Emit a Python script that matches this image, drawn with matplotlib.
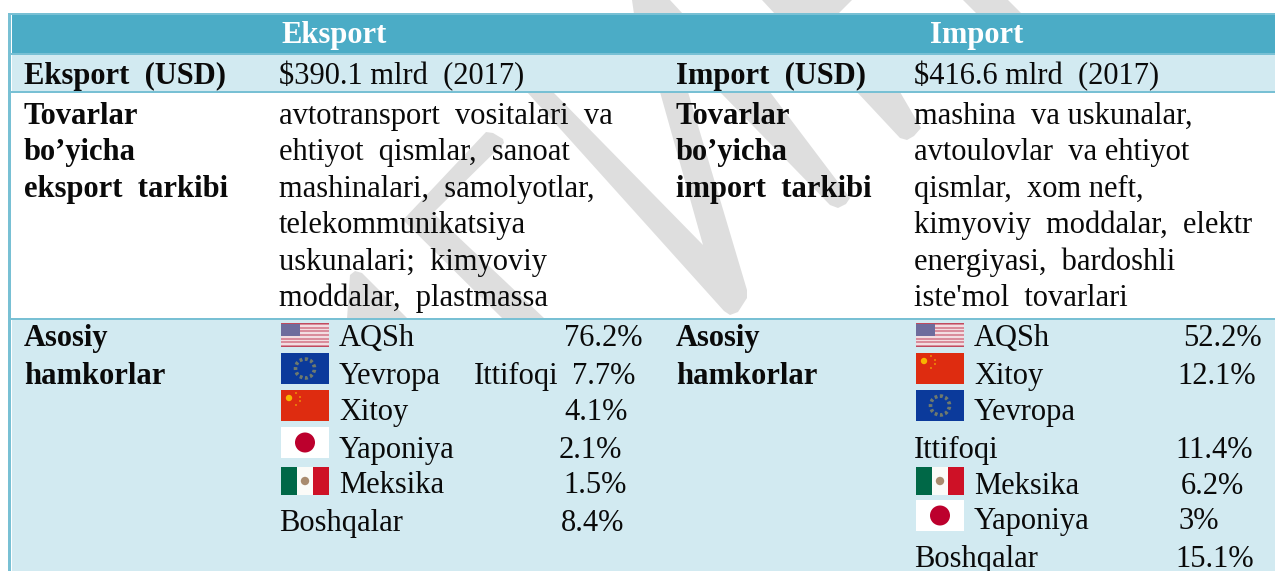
import matplotlib
matplotlib.use("Agg")
import matplotlib.pyplot as plt
from matplotlib.patches import Rectangle, Polygon, Circle

plt.rcParams['font.family'] = ['Liberation Serif', 'DejaVu Serif']

# table content
headers = ["Eksport", "Import"]
row_labels = ["Eksport  (USD)", "Import  (USD)"]
row_values = ["$390.1 mlrd  (2017)", "$416.6 mlrd  (2017)"]
export_goods_label = ["Tovarlar", "bo’yicha", "eksport  tarkibi"]
import_goods_label = ["Tovarlar", "bo’yicha", "import  tarkibi"]
export_goods = ["avtotransport  vositalari  va", "ehtiyot  qismlar,  sanoat",
                "mashinalari,  samolyotlar,", "telekommunikatsiya",
                "uskunalari;  kimyoviy", "moddalar,  plastmassa"]
import_goods = ["mashina  va uskunalar,", "avtoulovlar  va ehtiyot",
                "qismlar,  xom neft,", "kimyoviy  moddalar,  elektr",
                "energiyasi,  bardoshli", "iste'mol  tovarlari"]
partners_label = ["Asosiy", "hamkorlar"]
export_partners = ["AQSh", "Yevropa", "Xitoy", "Yaponiya", "Meksika"]
export_flags = ["us", "eu", "cn", "jp", "mx"]
export_shares = ["76.2%", "7.7%", "4.1%", "2.1%", "1.5%", "8.4%"]
import_partners = ["AQSh", "Xitoy", "Yevropa", "Meksika", "Yaponiya"]
import_flags = ["us", "cn", "eu", "mx", "jp"]
import_shares = ["52.2%", "12.1%", "11.4%", "6.2%", "3%", "15.1%"]

# layout, in pixels of the picture
W, H = 1275, 571
FS = 22
goods_base = [124, 160, 197, 233, 270, 306]
exp_base = [346, 384, 420, 458, 493, 531]
imp_base = [346, 384, 420, 494, 529]
exp_flag_y = [(323, 347), (353, 384), (390, 421), (427, 458), (467, 495)]
imp_flag_y = [(323, 347), (353, 384), (390, 421), (467, 495), (500, 531)]
exp_share_x = [564, 572, 564, 559, 563, 561]
imp_share_x = [1183, 1177, 1175, 1181, 1179, 1175]
imp_share_y = [346, 384, 458, 494, 529, 567]

BORDER = "#78C0D4"
HEAD = "#4BACC6"
BAND = "#D2EAF1"
MARK = "#DEDEDE"

fig = plt.figure(figsize=(W / 100, H / 100), dpi=100)
ax = fig.add_axes([0, 0, 1, 1])
ax.set_xlim(0, W)
ax.set_ylim(H, 0)
ax.axis("off")

# grey watermark, only shows through the white parts of the table
marks = [
    [(632, 0), (634, 14), (683, 14), (670, 0)],
    [(762, 0), (775, 14), (838, 14), (852, 0)],
    [(963, 0), (977, 14), (1022, 14), (1008, 0)],
    [(527, 92), (724, 311), (730, 315), (738, 312), (747, 298), (747, 290), (688, 92), (660, 92),
     (703, 245), (553, 92)],
    [(720, 92), (830, 205), (838, 208), (846, 204), (850, 198), (770, 92)],
    [(857, 92), (900, 138), (907, 140), (914, 136), (921, 128), (900, 92)],
    [(493, 133), (486, 132), (403, 220), (503, 319), (545, 319), (433, 213), (504, 143), (503, 139)],
    [(347, 319), (350, 275), (355, 271), (362, 273), (408, 319)],
]
for m in marks:
    ax.add_patch(Polygon(m, closed=True, fc=MARK, ec="none", zorder=1))

# table cells and rules
ax.add_patch(Rectangle((12, 15), W - 12, 38, fc=HEAD, ec="none", zorder=2))
ax.add_patch(Rectangle((12, 55), W - 12, 36, fc=BAND, ec="none", zorder=2))
ax.add_patch(Rectangle((12, 320), W - 12, H - 320, fc=BAND, ec="none", zorder=2))
for y0, y1 in [(13, 15), (53, 55), (91, 93), (318, 320)]:
    ax.add_patch(Rectangle((8, y0), W - 8, y1 - y0, fc=BORDER, ec="none", zorder=3))
ax.add_patch(Rectangle((8, 13), 3, H - 13, fc=BORDER, ec="none", zorder=3))


def txt(x, y, s, bold=False, color="#0a0a0a"):
    ax.text(x, y, s, fontsize=FS, color=color, va="baseline", ha="left",
            fontweight="bold" if bold else "normal", zorder=5)


def draw_flag(kind, x0, y0, y1):
    w = 48
    h = y1 - y0
    r = lambda x, y, a, b, c: ax.add_patch(Rectangle((x, y), a, b, fc=c, ec="none", zorder=4))
    if kind == "us":
        for i in range(13):
            r(x0, y0 + i * h / 13, w, h / 13 + 0.3, "#D98C9B" if i % 2 == 0 else "#F2DDE1")
        r(x0, y0, 19, h * 7 / 13, "#6E6C9C")
        r(x0, y0, w, 1, "#C04A5E")
        r(x0, y1 - 1, w, 1, "#C04A5E")
    elif kind == "eu":
        r(x0, y0, w, h, "#0B3A9B")
        cx, cy = x0 + w / 2, (y0 + y1) / 2
        ax.add_patch(Circle((cx, cy), 9.5, fc="none", ec="#6F7A6E", lw=2.6, ls=(0, (0.8, 0.7)), zorder=5))
    elif kind == "cn":
        r(x0, y0, w, h, "#DE2C10")
        ax.add_patch(Circle((x0 + 8, y0 + 8), 3.2, fc="#F7B500", ec="none", zorder=5))
        for dx, dy in [(15, 3), (19, 7), (19, 11), (15, 15)]:
            ax.add_patch(Circle((x0 + dx, y0 + dy), 1, fc="#EE8A08", ec="none", zorder=5))
    elif kind == "jp":
        r(x0, y0, w, h, "#FFFFFF")
        ax.add_patch(Circle((x0 + w / 2, (y0 + y1) / 2), 10, fc="#BC002D", ec="none", zorder=5))
    elif kind == "mx":
        r(x0, y0, 16, h, "#006847")
        r(x0 + 16, y0, 16, h, "#FBFBF8")
        r(x0 + 32, y0, 16, h, "#CE1126")
        ax.add_patch(Circle((x0 + 24, (y0 + y1) / 2), 4.2, fc="#A98B6E", ec="none", zorder=5))


# header row
txt(281, 43, headers[0], bold=True, color="white")
txt(930, 43, headers[1], bold=True, color="white")
txt(24, 84, row_labels[0], bold=True)
txt(279, 84, row_values[0])
txt(676, 84, row_labels[1], bold=True)
txt(914, 84, row_values[1])

# goods row
for i in range(3):
    txt(24, goods_base[i], export_goods_label[i], bold=True)
    txt(676, goods_base[i], import_goods_label[i], bold=True)
for i in range(6):
    txt(279, goods_base[i], export_goods[i])
    txt(914, goods_base[i], import_goods[i])

# partners row
txt(24, 346, partners_label[0], bold=True)
txt(24, 384, partners_label[1], bold=True)
txt(676, 346, partners_label[0], bold=True)
txt(676, 384, partners_label[1], bold=True)

for i, name in enumerate(export_partners):
    draw_flag(export_flags[i], 281, exp_flag_y[i][0], exp_flag_y[i][1])
    txt(339, exp_base[i], name)
    txt(exp_share_x[i], exp_base[i], export_shares[i])
txt(474, exp_base[1], "Ittifoqi")
txt(279, exp_base[5], "Boshqalar")
txt(exp_share_x[5], exp_base[5], export_shares[5])

for i, name in enumerate(import_partners):
    draw_flag(import_flags[i], 916, imp_flag_y[i][0], imp_flag_y[i][1])
    txt(974, imp_base[i], name)
for i in range(6):
    txt(imp_share_x[i], imp_share_y[i], import_shares[i])
txt(914, 458, "Ittifoqi")
txt(914, 567, "Boshqalar")

fig.savefig("out.png", dpi=100)
